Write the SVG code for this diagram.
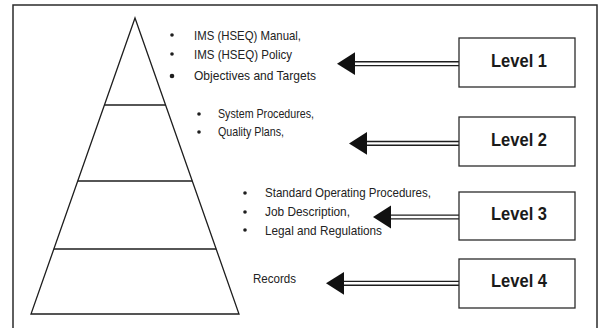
<svg xmlns="http://www.w3.org/2000/svg" width="600" height="328" viewBox="0 0 600 328">
  <style>
    .frame { fill: none; stroke: #2b2b2b; stroke-width: 1.5; }
    .pyr { fill: none; stroke: #1e1e1e; stroke-width: 1.3; stroke-linejoin: miter; }
    .box { fill: #ffffff; stroke: #2b2b2b; stroke-width: 1.3; }
    .lvl { font-family: "Liberation Sans", Arial, sans-serif; font-size: 18px; font-weight: bold; fill: #1a1a1a; text-anchor: middle; }
    .item { font-family: "Liberation Sans", Arial, sans-serif; font-size: 13.5px; fill: #222222; }
    .dot { fill: #1e1e1e; }
    .shaft { stroke: #1e1e1e; stroke-width: 1.4; fill: none; }
    .head { fill: #111111; }
  </style>

  <!-- outer frame (bottom edge runs past the page) -->
  <rect class="frame" x="13" y="5" width="584" height="335"/>

  <!-- pyramid with three dividers -->
  <g id="pyramid">
    <polygon class="pyr" points="135,18 239,314 31,314"/>
    <line class="pyr" x1="104.4" y1="105" x2="165.6" y2="105"/>
    <line class="pyr" x1="77.7" y1="181" x2="192.3" y2="181"/>
    <line class="pyr" x1="53.8" y1="249" x2="216.2" y2="249"/>
  </g>

  <!-- level 1 contents -->
  <g id="items-1">
    <circle class="dot" cx="172" cy="35" r="1.8"/>
    <circle class="dot" cx="172" cy="54" r="1.8"/>
    <circle class="dot" cx="172" cy="76" r="2.3"/>
    <text class="item" x="194" y="40" textLength="107" lengthAdjust="spacingAndGlyphs">IMS (HSEQ) Manual,</text>
    <text class="item" x="194" y="59" textLength="98" lengthAdjust="spacingAndGlyphs">IMS (HSEQ) Policy</text>
    <text class="item" x="194" y="80" textLength="122" lengthAdjust="spacingAndGlyphs">Objectives and Targets</text>
  </g>

  <!-- level 2 contents -->
  <g id="items-2">
    <circle class="dot" cx="199" cy="114" r="1.8"/>
    <circle class="dot" cx="199" cy="132" r="1.8"/>
    <text class="item" x="218" y="118" textLength="96" lengthAdjust="spacingAndGlyphs">System Procedures,</text>
    <text class="item" x="218" y="136" textLength="66" lengthAdjust="spacingAndGlyphs">Quality Plans,</text>
  </g>

  <!-- level 3 contents -->
  <g id="items-3">
    <circle class="dot" cx="245" cy="193" r="1.8"/>
    <circle class="dot" cx="245" cy="212" r="1.8"/>
    <circle class="dot" cx="245" cy="230" r="1.8"/>
    <text class="item" x="265" y="197" textLength="166" lengthAdjust="spacingAndGlyphs">Standard Operating Procedures,</text>
    <text class="item" x="265" y="216" textLength="85" lengthAdjust="spacingAndGlyphs">Job Description,</text>
    <text class="item" x="265" y="235" textLength="117" lengthAdjust="spacingAndGlyphs">Legal and Regulations</text>
  </g>

  <!-- level 4 contents -->
  <g id="items-4">
    <text class="item" x="253" y="283" textLength="43" lengthAdjust="spacingAndGlyphs">Records</text>
  </g>

  <!-- double-shafted arrows from the level boxes -->
  <g id="connectors">
    <line class="shaft" x1="353" y1="61.8" x2="459" y2="61.8"/>
    <line class="shaft" x1="353" y1="65.6" x2="459" y2="65.6"/>
    <polygon class="head" points="337,63.7 355,52.3 355,75.1"/>

    <line class="shaft" x1="365" y1="141.5" x2="459" y2="141.5"/>
    <line class="shaft" x1="365" y1="145.3" x2="459" y2="145.3"/>
    <polygon class="head" points="349,143.4 367,132 367,154.8"/>

    <line class="shaft" x1="389" y1="215.1" x2="459" y2="215.1"/>
    <line class="shaft" x1="389" y1="218.9" x2="459" y2="218.9"/>
    <polygon class="head" points="373,217 391,205.6 391,228.4"/>

    <line class="shaft" x1="342" y1="281.4" x2="459" y2="281.4"/>
    <line class="shaft" x1="342" y1="285.2" x2="459" y2="285.2"/>
    <polygon class="head" points="326,283.3 344,271.9 344,294.7"/>
  </g>

  <g id="level-1">
    <rect class="box" x="459" y="38" width="116" height="49"/>
    <text class="lvl" x="519" y="66.5" textLength="56" lengthAdjust="spacingAndGlyphs">Level 1</text>
  </g>
  <g id="level-2">
    <rect class="box" x="459" y="117" width="116" height="49"/>
    <text class="lvl" x="519" y="145.5" textLength="56" lengthAdjust="spacingAndGlyphs">Level 2</text>
  </g>
  <g id="level-3">
    <rect class="box" x="459" y="192" width="116" height="48"/>
    <text class="lvl" x="519" y="219.5" textLength="56" lengthAdjust="spacingAndGlyphs">Level 3</text>
  </g>
  <g id="level-4">
    <rect class="box" x="459" y="259" width="116" height="49"/>
    <text class="lvl" x="519" y="287" textLength="56" lengthAdjust="spacingAndGlyphs">Level 4</text>
  </g>
</svg>
